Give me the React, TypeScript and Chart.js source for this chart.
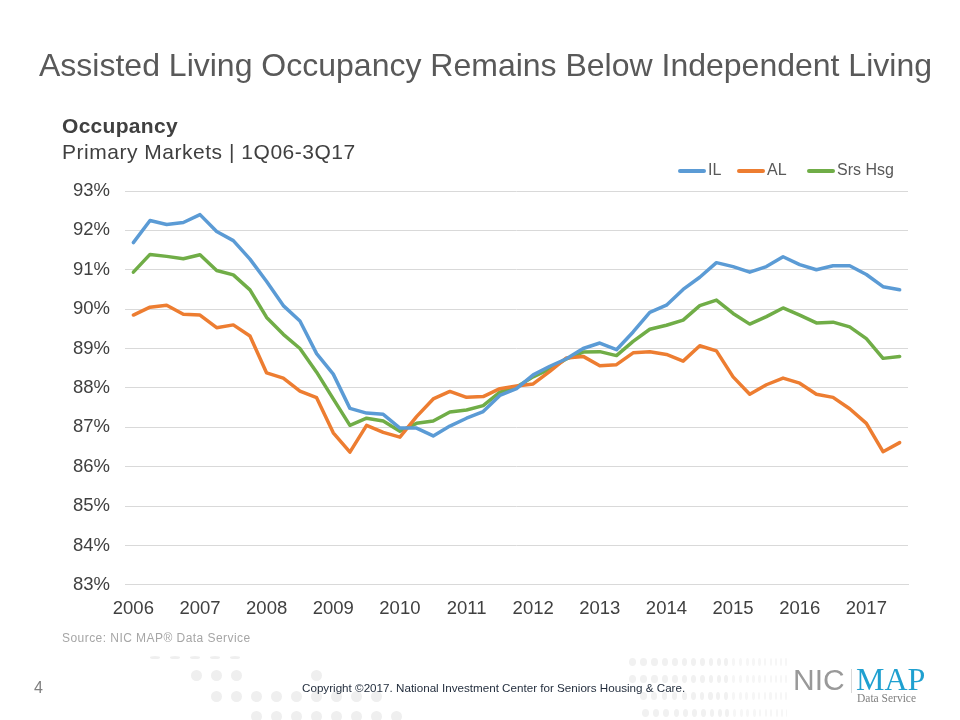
import { useEffect, useRef } from "react"
import { Chart, registerables } from "chart.js"

Chart.register(...registerables)

const years = ["2006", "2007", "2008", "2009", "2010", "2011", "2012", "2013", "2014", "2015", "2016", "2017"]
const quarters = years.flatMap((y) => [y, "", "", ""]).slice(0, 47)

const ilValues = [
  91.69, 92.25, 92.15, 92.2, 92.4, 91.97, 91.74, 91.27, 90.7, 90.09, 89.7, 88.87, 88.35, 87.48, 87.36, 87.33,
  86.98, 86.98, 86.78, 87.03, 87.23, 87.4, 87.81, 87.98, 88.33, 88.55, 88.74, 89.0, 89.14, 88.97, 89.42, 89.92,
  90.1, 90.5, 90.81, 91.18, 91.08, 90.94, 91.08, 91.33, 91.13, 91.0, 91.1, 91.1, 90.88, 90.57, 90.49,
]
const alValues = [
  89.85, 90.05, 90.1, 89.87, 89.85, 89.53, 89.6, 89.32, 88.38, 88.25, 87.92, 87.75, 86.86, 86.37, 87.05, 86.87,
  86.75, 87.27, 87.72, 87.91, 87.76, 87.78, 87.98, 88.05, 88.1, 88.42, 88.76, 88.8, 88.56, 88.59, 88.89, 88.92,
  88.85, 88.68, 89.07, 88.94, 88.28, 87.84, 88.08, 88.25, 88.12, 87.84, 87.76, 87.47, 87.1, 86.38, 86.61,
]
const srsValues = [
  90.94, 91.39, 91.34, 91.28, 91.38, 90.98, 90.87, 90.49, 89.79, 89.36, 89.0, 88.4, 87.72, 87.05, 87.23, 87.16,
  86.9, 87.1, 87.16, 87.39, 87.44, 87.55, 87.89, 88.02, 88.28, 88.48, 88.74, 88.91, 88.92, 88.82, 89.18, 89.49,
  89.59, 89.72, 90.09, 90.23, 89.89, 89.62, 89.81, 90.03, 89.85, 89.65, 89.67, 89.55, 89.25, 88.75, 88.8,
]

const font = "'Liberation Sans', Arial, sans-serif"
const serif = "'Liberation Serif', serif"
const blue = "#5b9bd5"
const orange = "#ed7d31"
const green = "#70ad47"

// background dots of the slide template
function Dot({ x, y, w, h = 11, color = "#efefef" }: { x: number; y: number; w: number; h?: number; color?: string }) {
  return (
    <div
      style={{
        position: "absolute",
        left: x - w / 2,
        top: y - h / 2,
        width: w,
        height: h,
        borderRadius: "50%",
        background: color,
      }}
    />
  )
}

function leftDots() {
  const out: { x: number; y: number; w: number; h?: number }[] = []
  for (const x of [155, 175, 195, 215, 235]) out.push({ x, y: 657, w: 10, h: 3 })
  for (const x of [196, 216, 236, 316]) out.push({ x, y: 675, w: 11 })
  for (let i = 0; i < 9; i++) out.push({ x: 216 + i * 20, y: 696, w: 11 })
  for (let i = 0; i < 8; i++) out.push({ x: 256 + i * 20, y: 716, w: 11 })
  return out
}

function rightDots() {
  const out: { x: number; y: number; w: number; h?: number; color: string }[] = []
  const rows = [
    { y: 662, start: 632 },
    { y: 679, start: 632 },
    { y: 696, start: 643 },
    { y: 713, start: 645 },
  ]
  for (const row of rows) {
    let x = row.start
    let w = 7
    while (x < 788) {
      out.push({ x, y: row.y, w, h: 8, color: x > 730 ? "#f6f6f6" : "#f1f1f1" })
      x += Math.max(5, 11.5 - (x - 632) * 0.045)
      w = Math.max(1.5, 7 - (x - 632) * 0.035)
    }
  }
  return out
}

function LegendItem({ left, color, label }: { left: number; color: string; label: string }) {
  return (
    <>
      <div style={{ position: "absolute", left, top: 169, width: 28, height: 3.5, borderRadius: 2, background: color }} />
      <div style={{ position: "absolute", left: left + 30, top: 161, fontSize: 16, color: "#595959", whiteSpace: "nowrap" }}>{label}</div>
    </>
  )
}

export default function App() {
  const chartRef = useRef<HTMLCanvasElement>(null)

  useEffect(() => {
    document.body.style.margin = "0"
    if (!chartRef.current) return

    const chart = new Chart(chartRef.current, {
      type: "line",
      data: {
        labels: quarters,
        datasets: [
          { label: "IL", data: ilValues, borderColor: blue, backgroundColor: blue },
          { label: "AL", data: alValues, borderColor: orange, backgroundColor: orange },
          { label: "Srs Hsg", data: srsValues, borderColor: green, backgroundColor: green },
        ],
      },
      options: {
        animation: false,
        responsive: false,
        layout: { padding: { left: 58, right: 52, top: 191, bottom: 95 } },
        elements: {
          point: { radius: 0 },
          line: { borderWidth: 3.5, tension: 0, borderJoinStyle: "round", borderCapStyle: "round" },
        },
        scales: {
          x: {
            offset: true,
            grid: { display: false },
            border: { color: "#d9d9d9" },
            ticks: {
              autoSkip: false,
              maxRotation: 0,
              color: "#404040",
              font: { family: font, size: 18.5 },
              padding: 5,
            },
          },
          y: {
            min: 83,
            max: 93,
            grid: { color: "#d9d9d9", lineWidth: 1, drawTicks: false },
            border: { display: false },
            ticks: {
              stepSize: 1,
              color: "#404040",
              padding: 15,
              font: { family: font, size: 18.5 },
              callback: (v) => v + "%",
            },
          },
        },
        plugins: {
          title: { display: false },
          tooltip: { enabled: false },
          legend: { display: false },
        },
      },
    })

    return () => chart.destroy()
  }, [])

  return (
    <div style={{ position: "relative", width: 960, height: 720, overflow: "hidden", background: "#fff", fontFamily: font }}>
      {leftDots().map((d, i) => <Dot key={"l" + i} {...d} />)}
      {rightDots().map((d, i) => <Dot key={"r" + i} {...d} />)}
      <canvas ref={chartRef} width={960} height={720} style={{ position: "absolute", left: 0, top: 0 }} />
      <div style={{ position: "absolute", left: 0, width: 971, top: 47, textAlign: "center", fontSize: 32, color: "#595959", whiteSpace: "nowrap" }}>
        Assisted Living Occupancy Remains Below Independent Living
      </div>
      <div style={{ position: "absolute", left: 62, top: 114, fontSize: 21, letterSpacing: 0.3, fontWeight: "bold", color: "#404040", whiteSpace: "nowrap" }}>Occupancy</div>
      <div style={{ position: "absolute", left: 62, top: 140, fontSize: 21, letterSpacing: 0.52, color: "#404040", whiteSpace: "nowrap" }}>Primary Markets | 1Q06-3Q17</div>
      <LegendItem left={678} color={blue} label="IL" />
      <LegendItem left={737} color={orange} label="AL" />
      <LegendItem left={807} color={green} label="Srs Hsg" />
      <div style={{ position: "absolute", left: 62, top: 631, fontSize: 12, letterSpacing: 0.45, color: "#a6a6a6", whiteSpace: "nowrap" }}>Source: NIC MAP® Data Service</div>
      <div style={{ position: "absolute", left: 34, top: 679, fontSize: 16, color: "#808080" }}>4</div>
      <div style={{ position: "absolute", left: 302, top: 681, fontSize: 11.65, color: "#1f2a3a", whiteSpace: "nowrap" }}>Copyright ©2017. National Investment Center for Seniors Housing &amp; Care.</div>
      <div style={{ position: "absolute", left: 793, top: 663, fontSize: 30, color: "#999999" }}>NIC</div>
      <div style={{ position: "absolute", left: 851, top: 669, width: 1, height: 24, background: "#d9d9d9" }} />
      <div style={{ position: "absolute", left: 856, top: 661, fontSize: 32, color: "#1fa0d0", fontFamily: serif }}>MAP</div>
      <div style={{ position: "absolute", left: 857, top: 692, fontSize: 11.5, color: "#808080", fontFamily: serif, whiteSpace: "nowrap" }}>Data Service</div>
    </div>
  )
}
